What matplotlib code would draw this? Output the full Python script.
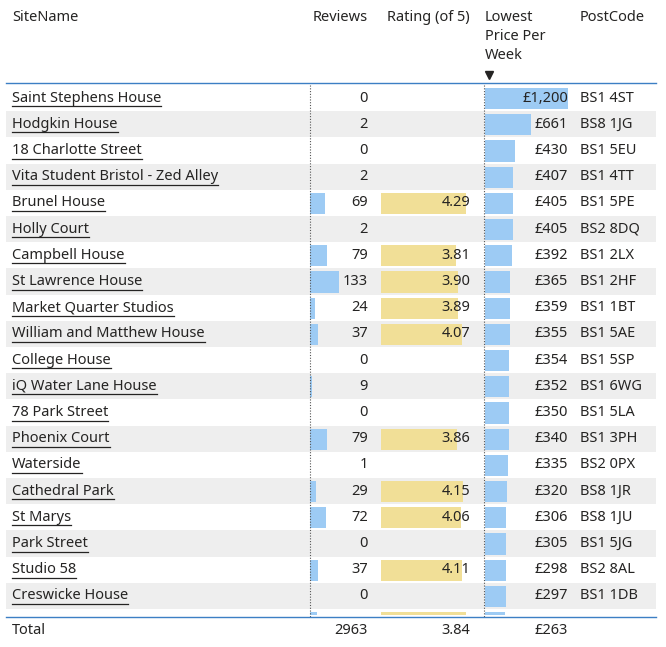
import matplotlib
matplotlib.use("Agg")
import matplotlib.pyplot as plt
from matplotlib.patches import Rectangle

sites = ["Saint Stephens House", "Hodgkin House", "18 Charlotte Street", "Vita Student Bristol - Zed Alley",
         "Brunel House", "Holly Court", "Campbell House", "St Lawrence House", "Market Quarter Studios",
         "William and Matthew House", "College House", "iQ Water Lane House", "78 Park Street",
         "Phoenix Court", "Waterside", "Cathedral Park", "St Marys", "Park Street", "Studio 58",
         "Creswicke House", ""]
reviews = [0, 2, 0, 2, 69, 2, 79, 133, 24, 37, 0, 9, 0, 79, 1, 29, 72, 0, 37, 0, 30]
ratings = [None, None, None, None, 4.29, None, 3.81, 3.90, 3.89, 4.07, None, None, None,
           3.86, None, 4.15, 4.06, None, 4.11, None, 4.30]
prices = [1200, 661, 430, 407, 405, 405, 392, 365, 359, 355, 354, 352, 350, 340, 335, 320, 306, 305, 298, 297, 290]
postcodes = ["BS1 4ST", "BS8 1JG", "BS1 5EU", "BS1 4TT", "BS1 5PE", "BS2 8DQ", "BS1 2LX", "BS1 2HF",
             "BS1 1BT", "BS1 5AE", "BS1 5SP", "BS1 6WG", "BS1 5LA", "BS1 3PH", "BS2 0PX", "BS8 1JR",
             "BS8 1JU", "BS1 5JG", "BS2 8AL", "BS1 1DB", ""]
totals = {"Reviews": "2963", "Rating": "3.84", "Price": "£263"}

plt.rcParams["font.family"] = ["Noto Sans", "DejaVu Sans"]
fig = plt.figure(figsize=(6.66, 6.47), dpi=100)
ax = fig.add_axes([0, 0, 1, 1])
ax.set_xlim(0, 666); ax.set_ylim(647, 0); ax.axis("off")

TXT = "#252423"
BLUE = "#9DCBF4"
YEL = "#F1DF97"
FS = 10.5
top, rh, clip_y = 85, 26.2, 617

# header
hy = 10
ax.text(12, hy, "SiteName", fontsize=FS, color=TXT, va="top")
ax.text(368, hy, "Reviews", fontsize=FS, color=TXT, va="top", ha="right")
ax.text(470, hy, "Rating (of 5)", fontsize=FS, color=TXT, va="top", ha="right")
ax.text(485, hy, "Lowest\nPrice Per\nWeek", fontsize=FS, color=TXT, va="top", linespacing=1.35)
ax.text(580, hy, "PostCode", fontsize=FS, color=TXT, va="top")
ax.plot([489], [75], marker="v", color=TXT, markersize=6)
ax.plot([6, 656], [83, 83], color="#3C7FC4", lw=1)

names = []
for i in range(len(sites)):
    y0 = top + i * rh
    h = min(rh, clip_y - y0)
    yc = y0 + rh / 2
    if i % 2 == 1:
        ax.add_patch(Rectangle((6, y0), 650, h, color="#EEEEEE", lw=0))
    # bars
    if reviews[i] > 0:
        ax.add_patch(Rectangle((310, y0 + 3), reviews[i] * 29 / 133, h - 5, color=BLUE, lw=0))
    if ratings[i] is not None:
        ax.add_patch(Rectangle((381, y0 + 3), ratings[i] * 19.8, h - 5, color=YEL, lw=0))
    ax.add_patch(Rectangle((485, y0 + 3), prices[i] * 83 / 1200, h - 5, color=BLUE, lw=0))
    if i < 20:
        t = ax.text(12, yc, sites[i], fontsize=FS, color=TXT, va="center")
        names.append((t, yc))
        ax.text(368, yc, str(reviews[i]), fontsize=FS, color=TXT, va="center", ha="right")
        if ratings[i] is not None:
            ax.text(470, yc, f"{ratings[i]:.2f}", fontsize=FS, color=TXT, va="center", ha="right")
        ax.text(568, yc, f"£{prices[i]:,}", fontsize=FS, color=TXT, va="center", ha="right")
        ax.text(580, yc, postcodes[i], fontsize=FS, color=TXT, va="center")

ax.plot([310, 310], [top, clip_y], color="#555555", lw=0.8, ls=(0, (1, 1.5)))
ax.plot([484, 484], [top, clip_y], color="#555555", lw=0.8, ls=(0, (1, 1.5)))
ax.plot([6, 656], [clip_y, clip_y], color="#3C7FC4", lw=1)

ty = 631
ax.text(12, ty, "Total", fontsize=FS, color=TXT, va="center", weight="bold")
ax.text(368, ty, totals["Reviews"], fontsize=FS, color=TXT, va="center", ha="right", weight="bold")
ax.text(470, ty, totals["Rating"], fontsize=FS, color=TXT, va="center", ha="right", weight="bold")
ax.text(568, ty, totals["Price"], fontsize=FS, color=TXT, va="center", ha="right", weight="bold")

# underline the site names
fig.canvas.draw()
r = fig.canvas.get_renderer()
inv = ax.transData.inverted()
for t, yc in names:
    bb = t.get_window_extent(r)
    x0, _ = inv.transform((bb.x0, bb.y0))
    x1, _ = inv.transform((bb.x1, bb.y0))
    ax.plot([x0, x1], [yc + 8, yc + 8], color=TXT, lw=0.9)

fig.savefig("out.png", dpi=100)
